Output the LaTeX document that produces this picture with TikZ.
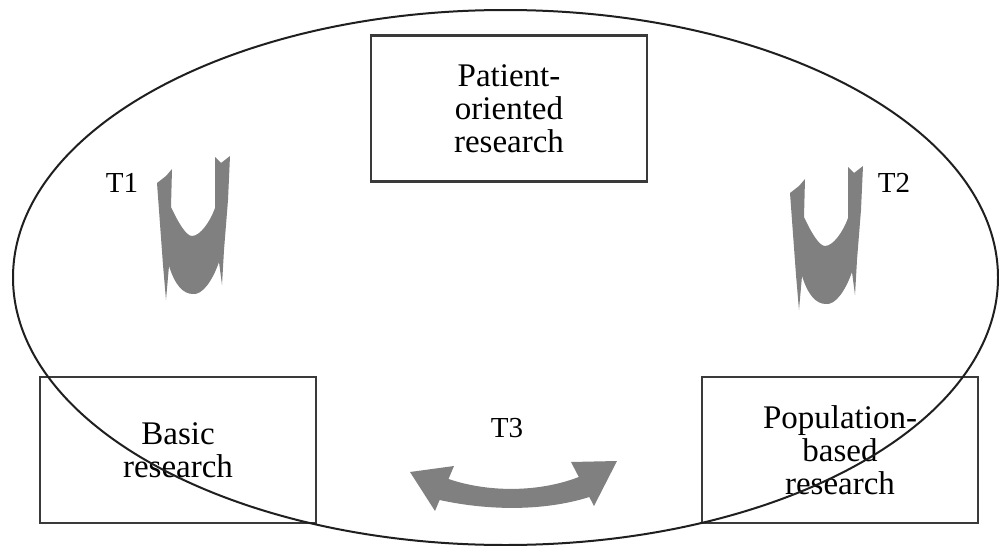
\documentclass[tikz,border=0pt]{standalone}
\usepackage{fontspec}
\setmainfont{Liberation Serif}
\usetikzlibrary{shapes.geometric}
\definecolor{arrowgray}{HTML}{808080}
\definecolor{linegray}{HTML}{3A3A3A}
\tikzset{
  researchbox/.style={draw=linegray, line width=2.2pt, minimum width=276pt,
    minimum height=146pt, inner sep=0pt, align=center,
    font=\fontsize{33}{33}\selectfont},
  tlabel/.style={font=\fontsize{29}{30}\selectfont, inner sep=0pt, anchor=base},
  loopline/.style={draw=black!88, line width=2pt},
  pics/uturn/.style={code={
    \fill[arrowgray] (0,0) -- (9,-7) -- (15,-14) -- (14,24)
      .. controls (21,39) and (29,53) .. (35,53)
      .. controls (43,53) and (53,39) .. (58,25)
      -- (58,-26) -- (64,-20) -- (73,-27) -- (71,17) -- (67,67) -- (65,102) -- (62,79)
      .. controls (55,99) and (45,112) .. (36,111)
      .. controls (26,111) and (18,102) .. (12,83)
      -- (9,117) -- (6,82) -- cycle;
  }}
}
\begin{document}
\begin{tikzpicture}[x=1pt, y=-1pt]
  \useasboundingbox (0,0) rectangle (999,546);

  % the three research areas
  \node[researchbox] (patient) at (509,108.5) {Patient-\\oriented\\research};
  \node[researchbox] (basic) at (178,450) {Basic\\research};
  \node[researchbox] (population) at (840,450) {Population-\\based\\research};

  % the enclosing cycle
  \node[ellipse, loopline, minimum width=985pt, minimum height=535pt, inner sep=0pt]
    (cycle) at (505.5,277.5) {};

  % translation steps T1 and T2
  \pic at (157,183) {uturn};
  \pic at (790,193) {uturn};
  \node[tlabel] (t1) at (122,192) {T1};
  \node[tlabel] (t2) at (894,192) {T2};

  % translation step T3: curved two-way arrow as one outline
  \node[tlabel] (t3) at (507,437) {T3};
  \fill[arrowgray] (410,472) -- (454,466) -- (448.5,479)
    .. controls (490,493) and (540,492) .. (578.8,477)
    -- (571,462) -- (617,461) -- (594,506) -- (589.3,497)
    .. controls (545,511) and (490,511) .. (439.6,500)
    -- (435,511) -- cycle;
\end{tikzpicture}
\end{document}
